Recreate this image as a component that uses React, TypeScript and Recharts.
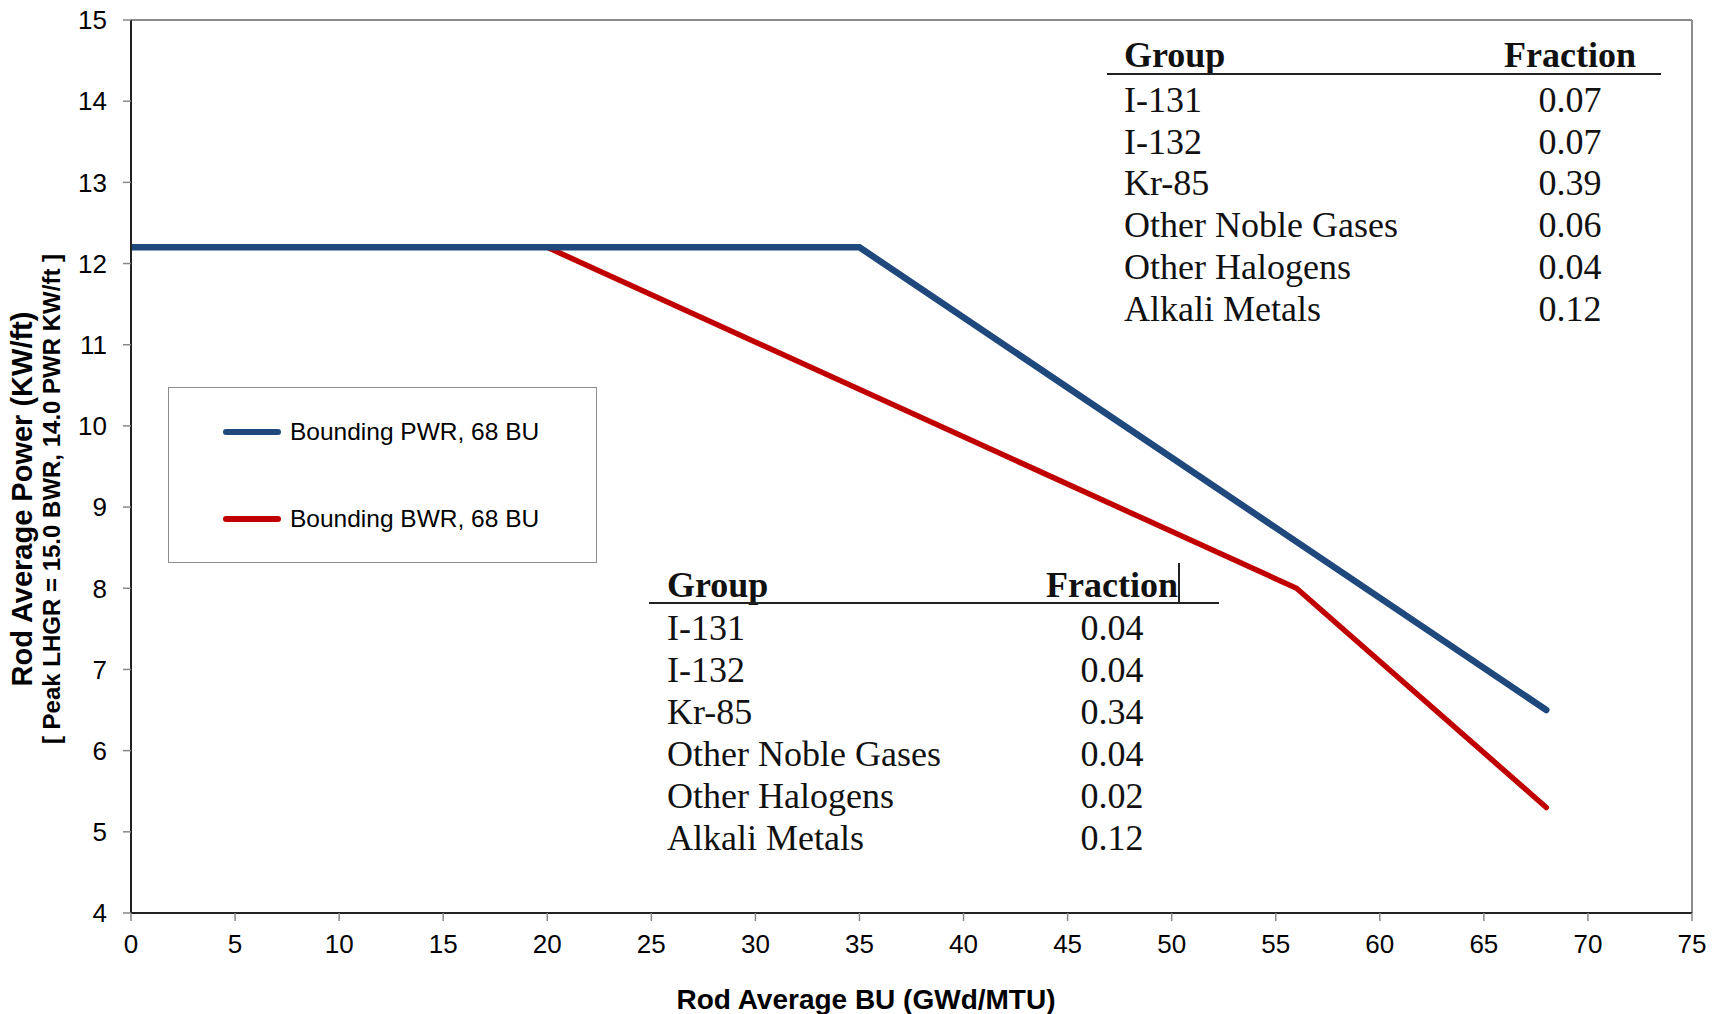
import React from "react";
import { LineChart, Line, XAxis, YAxis, Legend, ReferenceLine } from "recharts";

const pwrBU = [0, 35, 68];
const pwrPower = [12.2, 12.2, 6.5];
const bwrBU = [0, 20, 56, 68];
const bwrPower = [12.2, 12.2, 8.0, 5.3];

const xTicks = [0, 5, 10, 15, 20, 25, 30, 35, 40, 45, 50, 55, 60, 65, 70, 75];
const yTicks = [4, 5, 6, 7, 8, 9, 10, 11, 12, 13, 14, 15];

const groups = ["I-131", "I-132", "Kr-85", "Other Noble Gases", "Other Halogens", "Alkali Metals"];
const pwrFractions = ["0.07", "0.07", "0.39", "0.06", "0.04", "0.12"];
const bwrFractions = ["0.04", "0.04", "0.34", "0.04", "0.02", "0.12"];

const seriesNames = ["Bounding PWR, 68 BU", "Bounding BWR, 68 BU"];

const pwrData = pwrBU.map((bu, i) => ({ bu, power: pwrPower[i] }));
const bwrData = bwrBU.map((bu, i) => ({ bu, power: bwrPower[i] }));

const BLUE = "#1F497D";
const RED = "#C00000";
const SANS = "'Liberation Sans', Arial, sans-serif";
const SERIF = "'Liberation Serif', 'Times New Roman', serif";

function YTitle() {
  const cy = 499;
  return (
    <g fontFamily={SANS} fontWeight="bold" fill="#000">
      <text x={22} y={cy} transform={`rotate(-90 22 ${cy})`} textAnchor="middle" dominantBaseline="central" fontSize={29}>
        Rod Average Power (KW/ft)
      </text>
      <text x={51} y={cy} transform={`rotate(-90 51 ${cy})`} textAnchor="middle" dominantBaseline="central" fontSize={24}>
        [ Peak LHGR = 15.0 BWR, 14.0 PWR KW/ft ]
      </text>
    </g>
  );
}

function XTitle() {
  return (
    <text x={866} y={999} textAnchor="middle" dominantBaseline="central" fontFamily={SANS} fontWeight="bold" fontSize={28} fill="#000">
      Rod Average BU (GWd/MTU)
    </text>
  );
}

function LegendBox() {
  const colors = [BLUE, RED];
  const rowY = [44, 131];
  return (
    <div style={{ position: "relative", width: 429, height: 176, border: "1.5px solid #8c8c8c", boxSizing: "border-box", background: "#fff" }}>
      {seriesNames.map((name, i) => (
        <div key={name}>
          <div style={{ position: "absolute", left: 54, top: rowY[i] - 3, width: 58, height: 6, borderRadius: 3, background: colors[i] }} />
          <div style={{ position: "absolute", left: 121, top: rowY[i] - 15, lineHeight: "30px", fontFamily: SANS, fontSize: 24.5, color: "#000", whiteSpace: "nowrap" }}>
            {name}
          </div>
        </div>
      ))}
    </div>
  );
}

interface TableProps {
  left: number;
  width: number;
  headerCenter: number;
  lineY: number;
  firstRow: number;
  rowGap: number;
  textLeft: number;
  valueCenter: number;
  values: string[];
}

function FractionTable({ left, width, headerCenter, lineY, firstRow, rowGap, textLeft, valueCenter, values }: TableProps) {
  const cell = (top: number, content: string, x: number, center: boolean, bold: boolean, key: string) => (
    <div
      key={key}
      style={{
        position: "absolute",
        top: top - 21,
        left: center ? x - 100 : x,
        width: center ? 200 : undefined,
        textAlign: center ? "center" : "left",
        lineHeight: "42px",
        fontFamily: SERIF,
        fontSize: 36,
        fontWeight: bold ? "bold" : "normal",
        color: "#111",
        whiteSpace: "nowrap",
      }}
    >
      {content}
    </div>
  );
  return (
    <>
      {cell(headerCenter, "Group", textLeft, false, true, "hg")}
      {cell(headerCenter, "Fraction", valueCenter, true, true, "hf")}
      <div style={{ position: "absolute", left, top: lineY - 1, width, height: 2, background: "#222" }} />
      {groups.map((g, i) => cell(firstRow + i * rowGap, g, textLeft, false, false, "g" + i))}
      {values.map((v, i) => cell(firstRow + i * rowGap, v, valueCenter, true, false, "v" + i))}
    </>
  );
}

export default function App() {
  return (
    <div style={{ position: "absolute", left: 0, top: 0, width: 1719, height: 1014, background: "#fff" }}>
      <LineChart width={1719} height={1014} margin={{ top: 20, right: 27, bottom: 41, left: 60 }}>
        <XAxis
          type="number"
          dataKey="bu"
          domain={[0, 75]}
          ticks={xTicks}
          interval={0}
          allowDataOverflow
          height={60}
          tickSize={8}
          tickMargin={14}
          axisLine={{ stroke: "#222", strokeWidth: 2 }}
          tickLine={{ stroke: "#888", strokeWidth: 1.5 }}
          tick={{ fill: "#000", fontSize: 26, fontFamily: SANS }}
          label={<XTitle />}
        />
        <YAxis
          type="number"
          dataKey="power"
          domain={[4, 15]}
          ticks={yTicks}
          interval={0}
          allowDataOverflow
          width={71}
          tickSize={8}
          tickMargin={16}
          axisLine={{ stroke: "#222", strokeWidth: 2 }}
          tickLine={{ stroke: "#888", strokeWidth: 1.5 }}
          tick={{ fill: "#000", fontSize: 26, fontFamily: SANS }}
          label={<YTitle />}
        />
        <ReferenceLine y={15} stroke="#8c8c8c" strokeWidth={2} />
        <ReferenceLine x={75} stroke="#8c8c8c" strokeWidth={2} />
        <Line
          data={bwrData}
          dataKey="power"
          name={seriesNames[1]}
          stroke={RED}
          strokeWidth={5.5}
          strokeLinecap="round"
          dot={false}
          activeDot={false}
          isAnimationActive={false}
          type="linear"
        />
        <Line
          data={pwrData}
          dataKey="power"
          name={seriesNames[0]}
          stroke={BLUE}
          strokeWidth={6.5}
          strokeLinecap="round"
          dot={false}
          activeDot={false}
          isAnimationActive={false}
          type="linear"
        />
        <Legend
          layout="vertical"
          align="center"
          verticalAlign="middle"
          wrapperStyle={{ left: 168, top: 387, width: 429, height: 176 }}
          content={() => <LegendBox />}
        />
      </LineChart>
      <FractionTable
        left={1107}
        width={554}
        headerCenter={55}
        lineY={74}
        firstRow={100}
        rowGap={41.7}
        textLeft={1124}
        valueCenter={1570}
        values={pwrFractions}
      />
      <FractionTable
        left={649}
        width={570}
        headerCenter={585}
        lineY={603}
        firstRow={628}
        rowGap={42}
        textLeft={667}
        valueCenter={1112}
        values={bwrFractions}
      />
      <div style={{ position: "absolute", left: 1178, top: 563, width: 1.5, height: 40, background: "#222" }} />
    </div>
  );
}
